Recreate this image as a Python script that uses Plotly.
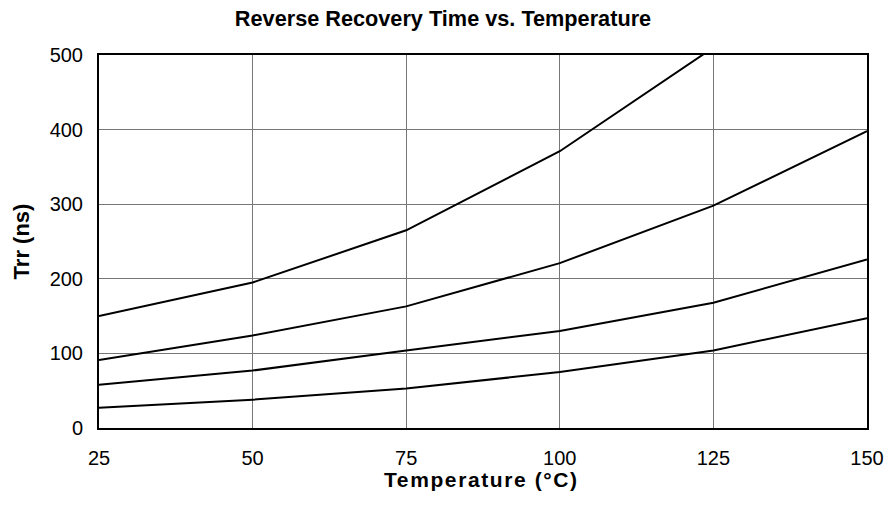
import plotly.graph_objects as go

temperature = [25, 50, 75, 100, 125, 150]
trr_curve1 = [150, 195, 265, 371, 510]
trr_curve2 = [91, 124, 163, 221, 298, 398]
trr_curve3 = [58, 77, 104, 130, 168, 226]
trr_curve4 = [27, 38, 53, 75, 104, 147]

x_ticks = [25, 50, 75, 100, 125, 150]
y_ticks = [0, 100, 200, 300, 400, 500]

FONT = "Liberation Sans, Arial, sans-serif"

fig = go.Figure()
for ys in [trr_curve1, trr_curve2, trr_curve3, trr_curve4]:
    fig.add_trace(go.Scatter(
        x=temperature[:len(ys)], y=ys, mode="lines",
        line=dict(color="black", width=2), showlegend=False, hoverinfo="x+y"))

fig.update_layout(
    width=886, height=508,
    margin=dict(l=99, r=19, t=55, b=80, autoexpand=False),
    paper_bgcolor="white", plot_bgcolor="white",
    font=dict(family=FONT, color="black", size=20),
    title=dict(text="Reverse Recovery Time vs. Temperature",
               x=0.5, xanchor="center", y=0.963, yanchor="middle",
               font=dict(family=FONT, size=21.7, weight="bold", color="black")),
    annotations=[dict(
        text='<span style="letter-spacing:1.6px">Temperature (°C)</span>',
        xref="paper", yref="paper", x=0.5, y=0, xanchor="center", yanchor="middle",
        xshift=-2, yshift=-51, showarrow=False,
        font=dict(family=FONT, size=21, weight="bold", color="black"))],
)
fig.update_xaxes(
    range=[25, 150], tickvals=x_ticks, ticktext=[str(v) for v in x_ticks],
    showgrid=True, gridcolor="#777777", gridwidth=1,
    showline=True, linecolor="black", linewidth=2, mirror=True,
    ticks="", ticklabelstandoff=11, zeroline=False, automargin=False,
    ticklabeloverflow="allow",
    tickfont=dict(family=FONT, size=20),
)
fig.update_yaxes(
    range=[0, 500], tickvals=y_ticks, ticktext=[str(v) for v in y_ticks],
    showgrid=True, gridcolor="#777777", gridwidth=1,
    showline=True, linecolor="black", linewidth=2, mirror=True,
    ticks="", ticklabelstandoff=10, zeroline=False, automargin=False,
    tickfont=dict(family=FONT, size=20),
    title=dict(text="Trr (ns)", standoff=14,
               font=dict(family=FONT, size=22, weight="bold")),
)

fig.write_html("out.html",
               config={"displayModeBar": False},
               post_script="document.body.style.margin='0';document.body.style.overflow='hidden';")
